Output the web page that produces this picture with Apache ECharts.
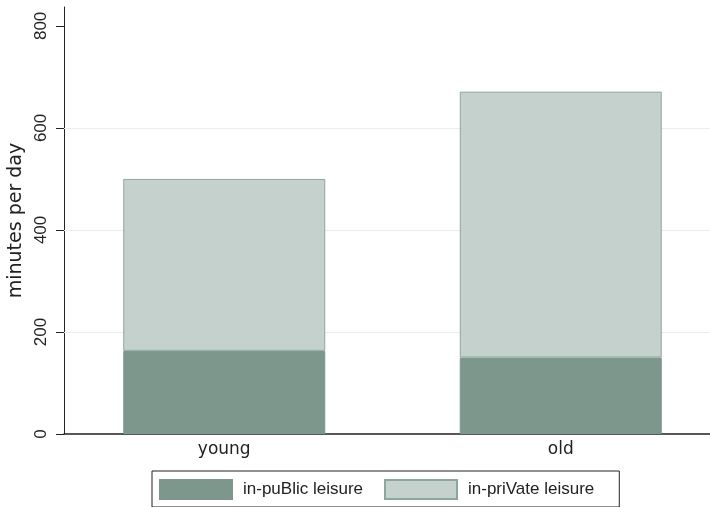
<!DOCTYPE html>
<html>
<head>
<meta charset="utf-8">
<script src="https://cdn.jsdelivr.net/npm/echarts@6/dist/echarts.min.js"></script>
<style>html,body{margin:0;padding:0;background:#fff}#c{width:710px;height:507px}</style>
</head>
<body>
<div id="c"></div>
<script>
const categories = ['young', 'old'];
const seriesNames = ['in-puBlic leisure', 'in-priVate leisure'];
const publicLeisure = [163, 150];
const privateLeisure = [337, 521];
const yTicks = [0, 200, 400, 600, 800];
const gridTicks = [200, 400, 600];
const yTitle = 'minutes per day';

const font = 'Liberation Sans, Arial, sans-serif';
const wideFont = 'DejaVu Sans, sans-serif';
const Y_MAX = 837;
const chart = echarts.init(document.getElementById('c'), null, {renderer: 'canvas'});

chart.setOption({
  animation: false,
  backgroundColor: '#fff',
  grid: [
    {left: 64, width: 646, top: 7, height: 427, containLabel: false, outerBoundsMode: 'none'},
    {left: 56, width: 673, top: 7, height: 427, containLabel: false, outerBoundsMode: 'none'}
  ],
  xAxis: [
    {
      gridIndex: 0, type: 'value', min: 0, max: 1,
      axisLine: {show: true, onZero: false, lineStyle: {color: '#222', width: 1.5}},
      axisTick: {show: false}, axisLabel: {show: false}, splitLine: {show: false}
    },
    {
      gridIndex: 1, type: 'category', data: categories,
      axisLine: {show: false}, axisTick: {show: false}, splitLine: {show: false},
      axisLabel: {fontFamily: wideFont, fontSize: 17, color: '#222', margin: 7}
    }
  ],
  yAxis: [
    {
      gridIndex: 0, type: 'value', min: 0, max: Y_MAX,
      name: yTitle, nameLocation: 'middle', nameRotate: 90, nameGap: 36,
      nameTextStyle: {fontFamily: wideFont, fontSize: 19, color: '#222'},
      axisLine: {show: true, onZero: false, lineStyle: {color: '#222', width: 1}},
      axisTick: {show: true, customValues: yTicks, length: 8, lineStyle: {color: '#222'}},
      splitLine: {show: false},
      axisLabel: {customValues: yTicks, rotate: 90, fontFamily: font, fontSize: 17, color: '#222', margin: 14}
    },
    {
      gridIndex: 1, type: 'value', min: 0, max: Y_MAX, show: false,
      splitLine: {show: false}
    }
  ],
  legend: {
    data: seriesNames,
    left: 152, top: 471,
    orient: 'horizontal',
    itemWidth: 72, itemHeight: 19, itemGap: 21,
    icon: 'rect',
    borderColor: '#222', borderWidth: 1, borderRadius: 0,
    padding: [8, 25, 7, 7],
    textStyle: {fontFamily: font, fontSize: 17, lineHeight: 19, color: '#222', padding: [0, 0, 0, 6]}
  },
  series: [
    {
      type: 'line', name: 'grid', xAxisIndex: 0, yAxisIndex: 0,
      z: 1, silent: true, data: [],
      markLine: {
        silent: true, z: 1, symbol: 'none', label: {show: false},
        lineStyle: {color: '#e7eef0', width: 1.2, type: 'solid'},
        data: gridTicks.map(v => ({yAxis: v}))
      }
    },
    {
      type: 'bar', name: seriesNames[0], xAxisIndex: 1, yAxisIndex: 1,
      stack: 'total', z: 5, barWidth: 202,
      itemStyle: {color: '#7d978d', borderColor: '#7d978d', borderWidth: 1},
      data: publicLeisure
    },
    {
      type: 'bar', name: seriesNames[1], xAxisIndex: 1, yAxisIndex: 1,
      stack: 'total', z: 5, barWidth: 202,
      itemStyle: {color: '#c5d1cd', borderColor: '#8ea79e', borderWidth: 1},
      data: privateLeisure
    }
  ]
});
</script>
</body>
</html>
